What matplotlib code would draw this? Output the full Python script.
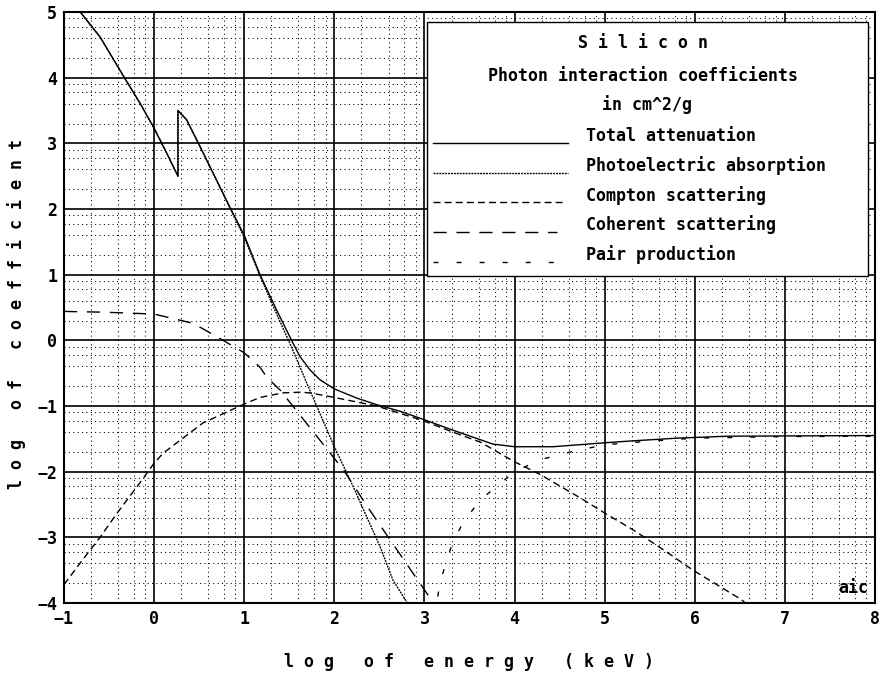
import numpy as np
import matplotlib
matplotlib.use("Agg")
import matplotlib.pyplot as plt
from matplotlib.patches import Rectangle
from matplotlib.lines import Line2D

plt.rcParams['font.family'] = ['DejaVu Sans Mono']
plt.rcParams['font.weight'] = 'bold'
plt.rcParams['lines.scale_dashes'] = False

# --- data: log10(E / keV) vs log10(mu/rho / cm^2/g) ---
total_x = [-1.0, -0.82, -0.6, -0.334, -0.156, 0.0, 0.14, 0.2646, 0.2646, 0.36, 0.51,
           0.84, 1.0, 1.175, 1.36, 1.54, 1.62, 1.73, 1.84, 2.0, 2.25, 2.47, 2.73,
           2.98, 3.32, 3.76, 4.0, 4.43, 5.0, 5.32, 5.8, 6.36, 8.0]
total_y = [5.3, 5.0, 4.62, 4.01, 3.61, 3.23, 2.85, 2.5, 3.5, 3.36, 2.95,
           2.03, 1.6, 1.0, 0.46, -0.04, -0.25, -0.45, -0.6, -0.74, -0.88, -0.98, -1.08,
           -1.2, -1.37, -1.58, -1.62, -1.62, -1.56, -1.53, -1.49, -1.46, -1.45]

photo_x = [-1.0, -0.82, -0.6, -0.334, -0.156, 0.0, 0.14, 0.2646, 0.2646, 0.36, 0.51,
           0.84, 1.0, 1.175, 1.36, 1.54, 1.675, 1.76, 2.0, 2.21, 2.51, 2.65, 2.81, 2.9]
photo_y = [5.3, 5.0, 4.62, 4.01, 3.61, 3.23, 2.85, 2.5, 3.5, 3.36, 2.95,
           2.02, 1.57, 0.98, 0.40, -0.15, -0.59, -0.86, -1.62, -2.23, -3.15, -3.65, -4.0, -4.3]

compton_x = [-1.0, -0.82, -0.6, -0.41, -0.12, 0.0, 0.1, 0.29, 0.54, 0.81, 1.0, 1.175,
             1.43, 1.62, 1.73, 2.0, 2.47, 2.98, 3.32, 3.62, 4.0, 4.28, 4.73, 5.0,
             5.32, 5.62, 5.98, 6.52, 6.6]
compton_y = [-3.72, -3.39, -3.0, -2.63, -2.1, -1.87, -1.72, -1.52, -1.26, -1.09, -0.97, -0.87,
             -0.80, -0.79, -0.80, -0.87, -1.0, -1.22, -1.40, -1.55, -1.85, -2.04, -2.40, -2.63,
             -2.89, -3.16, -3.5, -3.95, -4.05]

coherent_x = [-1.0, -0.6, -0.38, 0.0, 0.43, 0.51, 0.765, 1.0, 1.175, 1.25, 1.4,
              1.62, 2.1, 2.37, 3.1, 3.2]
coherent_y = [0.44, 0.43, 0.42, 0.40, 0.26, 0.2, 0.0, -0.19, -0.41, -0.56, -0.76,
              -1.14, -1.97, -2.54, -4.0, -4.2]

pair_x = [3.1, 3.14, 3.17, 3.25, 3.31, 3.43, 3.62, 4.0, 4.28, 4.62, 5.0, 5.5, 6.0, 7.0, 8.0]
pair_y = [-4.6, -3.98, -3.7, -3.34, -3.09, -2.77, -2.43, -2.0, -1.82, -1.70, -1.59,
          -1.535, -1.49, -1.465, -1.46]

series = [
    ("Total attenuation", total_x, total_y, '-'),
    ("Photoelectric absorption", photo_x, photo_y, (0, (1.4, 0.7))),
    ("Compton scattering", compton_x, compton_y, (0, (5.0, 3.0))),
    ("Coherent scattering", coherent_x, coherent_y, (0, (9.5, 7.0))),
    ("Pair production", pair_x, pair_y, (0, (3.6, 13.0))),
]

fig = plt.figure(figsize=(8.82, 6.79), dpi=100)
ax = fig.add_axes([64 / 882, 1 - 603 / 679, 811 / 882, 591 / 679])

ax.set_xlim(-1, 8)
ax.set_ylim(-4, 5)
ax.set_xticks(range(-1, 9))
ax.set_yticks(range(-4, 6))
minor_x = [d + np.log10(k) for d in range(-1, 8) for k in (2, 4, 6, 8)]
minor_y = [d + np.log10(k) for d in range(-4, 5) for k in (2, 4, 6, 8)]
ax.set_xticks(minor_x, minor=True)
ax.set_yticks(minor_y, minor=True)
ax.grid(which='major', color='black', lw=1.2, ls='-')
ax.grid(which='minor', color='black', lw=0.75, ls=(0, (0.75, 2.4)))
ax.set_axisbelow(True)
ax.tick_params(which='both', length=0)
ax.tick_params(labelsize=12, pad=5)
for s in ax.spines.values():
    s.set_linewidth(1.5)

for name, xs, ys, ls in series:
    ax.plot(xs, ys, color='black', lw=1.0, ls=ls, zorder=3)

# legend box
ax.add_patch(Rectangle((0.448, 0.553), 0.543, 0.430, transform=ax.transAxes,
                       facecolor='white', edgecolor='black', lw=1.0, zorder=5))
ax.text(0.714, 0.948, "S i l i c o n", transform=ax.transAxes, ha='center', va='center',
        fontsize=12, zorder=6)
ax.text(0.714, 0.892, "Photon interaction coefficients", transform=ax.transAxes,
        ha='center', va='center', fontsize=12, zorder=6)
ax.text(0.719, 0.843, "in cm^2/g", transform=ax.transAxes, ha='center', va='center',
        fontsize=12, zorder=6)

label_y = [0.790, 0.741, 0.690, 0.640, 0.589]
line_y = [0.778, 0.728, 0.679, 0.628, 0.577]
line_end = [0.621, 0.621, 0.614, 0.608, 0.608]
for (name, xs, ys, ls), ty, lyy, le in zip(series, label_y, line_y, line_end):
    ax.add_line(Line2D([0.455, le], [lyy, lyy], transform=ax.transAxes, color='black',
                       lw=1.0, ls=ls, zorder=6))
    ax.text(0.644, ty, name, transform=ax.transAxes, ha='left', va='center',
            fontsize=12, zorder=6)

ax.text(7.76, -3.77, "aic", ha='center', va='center', fontsize=12, zorder=6)

fig.text(469 / 882, 1 - 662 / 679, "l o g   o f   e n e r g y   ( k e V )",
         ha='center', va='center', fontsize=12)
fig.text(17 / 882, 1 - 314 / 679, "l o g   o f   c o e f f i c i e n t",
         ha='center', va='center', rotation=90, fontsize=12)

fig.savefig("out.png", dpi=100)
